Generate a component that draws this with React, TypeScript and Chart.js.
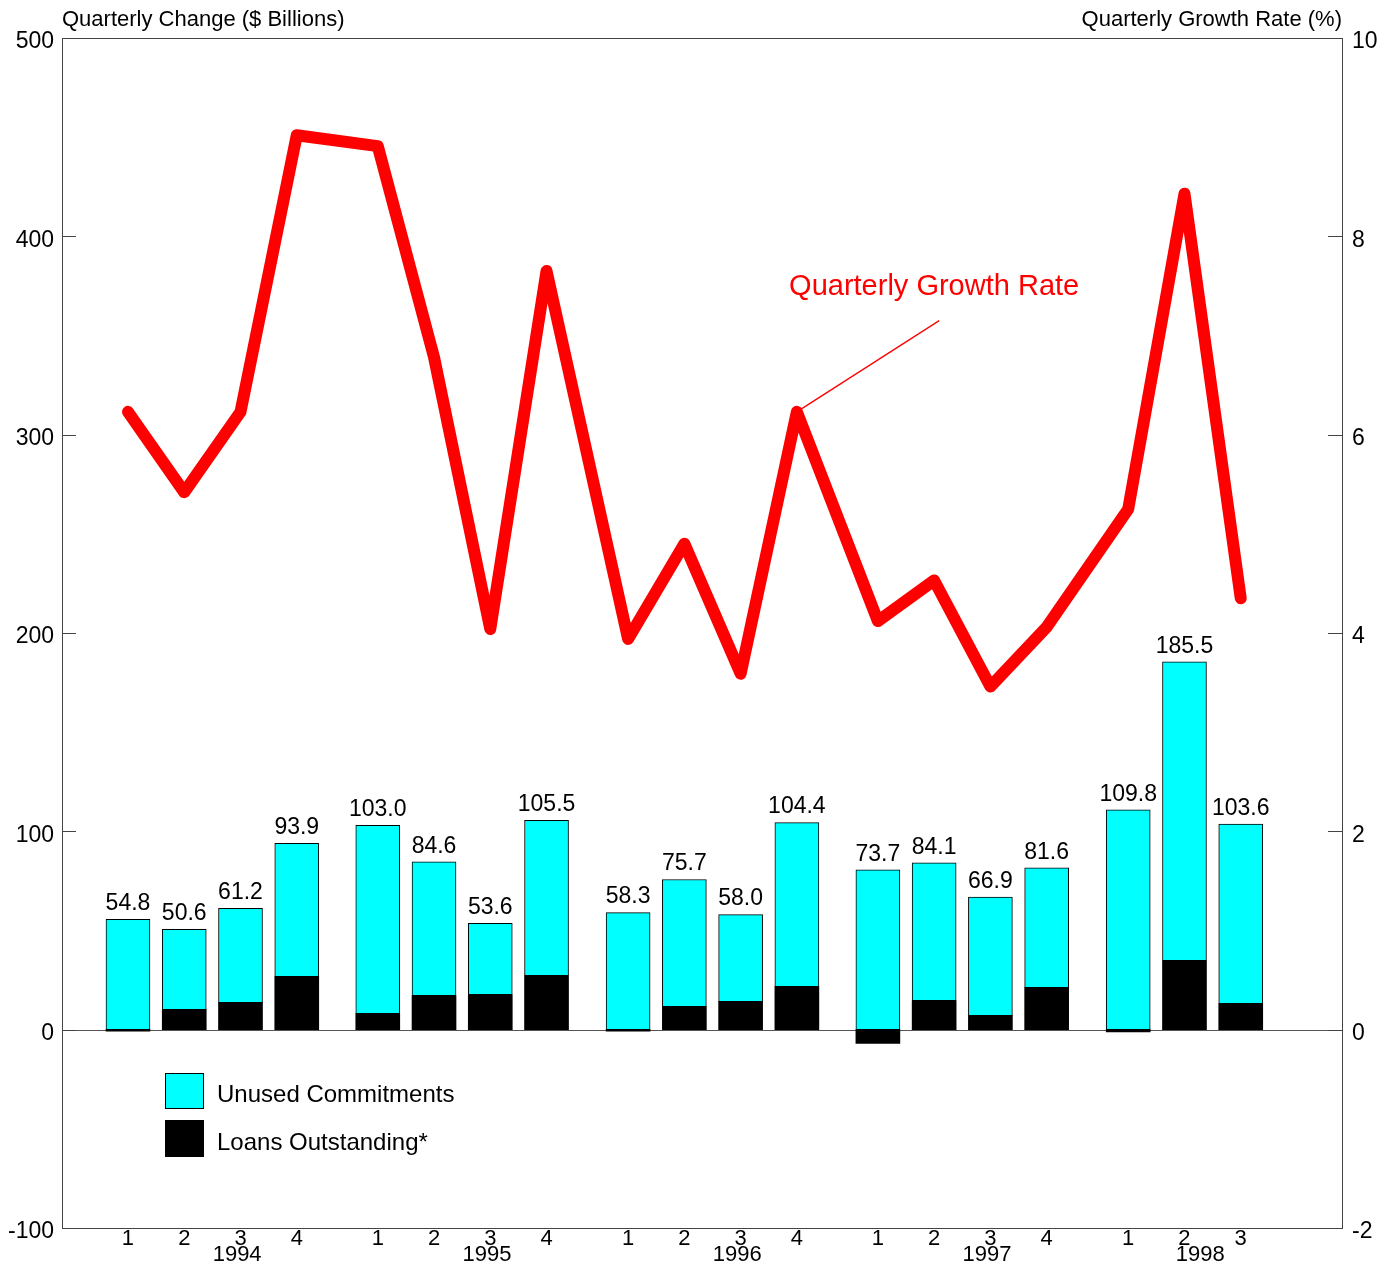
import React, { useEffect, useRef } from 'react';
import { Chart, registerables } from 'chart.js';

Chart.register(...registerables);

const FONT = '"Liberation Sans", Arial, Helvetica, sans-serif';

// Quarter tick labels and their positions on the (gapped) time axis
const quarterLabels = ['1', '2', '3', '4', '1', '2', '3', '4', '1', '2', '3', '4', '1', '2', '3', '4', '1', '2', '3'];
const quarterPos = [0, 1, 2, 3, 4.44, 5.44, 6.44, 7.44, 8.89, 9.89, 10.89, 11.89, 13.33, 14.33, 15.33, 16.33, 17.78, 18.78, 19.78];
const years = ['1994', '1995', '1996', '1997', '1998'];
const yearPos = [1.94, 6.38, 10.83, 15.27, 19.06];

// $ billions
const loansOutstanding = [-0.8, 10.1, 13.6, 26.7, 8.1, 17.1, 17.6, 27.2, -0.7, 11.6, 14.1, 21.7, -6.9, 14.6, 7.1, 21.2, -1.1, 34.8, 13.1];
const unusedCommitments = [55.6, 40.5, 47.6, 67.2, 94.9, 67.5, 36.0, 78.3, 59.0, 64.1, 43.9, 82.7, 80.6, 69.5, 59.8, 60.4, 110.9, 150.7, 90.5];
const totalChange = [54.8, 50.6, 61.2, 93.9, 103.0, 84.6, 53.6, 105.5, 58.3, 75.7, 58.0, 104.4, 73.7, 84.1, 66.9, 81.6, 109.8, 185.5, 103.6];
// %
const growthRate = [6.23, 5.42, 6.23, 9.02, 8.91, 6.78, 4.04, 7.65, 3.94, 4.90, 3.59, 6.23, 4.12, 4.53, 3.46, 4.06, 5.25, 8.43, 4.35];

const annotationIndex = 11;

export default function App() {
  const ref = useRef<HTMLCanvasElement>(null);

  useEffect(() => {
    const canvas = ref.current;
    if (!canvas) return;

    const custom = {
      id: 'custom',
      beforeDatasetsDraw(chart: any) {
        const { ctx, chartArea: a, scales } = chart;
        const y0 = scales.y.getPixelForValue(0);
        ctx.save();
        ctx.strokeStyle = '#555';
        ctx.lineWidth = 1;
        ctx.beginPath();
        ctx.moveTo(a.left, Math.round(y0) + 0.5);
        ctx.lineTo(a.right, Math.round(y0) + 0.5);
        ctx.stroke();
        ctx.restore();
      },
      afterDatasetsDraw(chart: any) {
        const { ctx, chartArea: a, scales } = chart;
        ctx.save();
        // frame
        ctx.strokeStyle = '#444';
        ctx.lineWidth = 1;
        ctx.strokeRect(Math.round(a.left) + 0.5, Math.round(a.top) + 0.5, Math.round(a.right - a.left), Math.round(a.bottom - a.top));
        // inward tick marks
        ctx.beginPath();
        scales.y.ticks.forEach((t: any) => {
          const py = Math.round(scales.y.getPixelForValue(t.value)) + 0.5;
          ctx.moveTo(a.left, py);
          ctx.lineTo(a.left + 14, py);
        });
        scales.y1.ticks.forEach((t: any) => {
          const py = Math.round(scales.y1.getPixelForValue(t.value)) + 0.5;
          ctx.moveTo(a.right - 14, py);
          ctx.lineTo(a.right, py);
        });
        ctx.stroke();

        // bar value labels
        const meta = chart.getDatasetMeta(1);
        ctx.fillStyle = '#000';
        ctx.font = `23px ${FONT}`;
        ctx.textAlign = 'center';
        ctx.textBaseline = 'bottom';
        meta.data.forEach((el: any, i: number) => {
          ctx.fillText(totalChange[i].toFixed(1), el.x, el.y - 4);
        });

        // year labels
        ctx.font = `22px ${FONT}`;
        ctx.textBaseline = 'middle';
        years.forEach((yr, i) => {
          ctx.fillText(yr, scales.x.getPixelForValue(yearPos[i]), a.bottom + 27);
        });

        // axis titles
        ctx.font = `22px ${FONT}`;
        ctx.textAlign = 'left';
        ctx.fillText('Quarterly Change ($ Billions)', a.left, 20);
        ctx.textAlign = 'right';
        ctx.fillText('Quarterly Growth Rate (%)', a.right, 20);

        // annotation
        const px = scales.x.getPixelForValue(quarterPos[annotationIndex]);
        const py = scales.y1.getPixelForValue(growthRate[annotationIndex]);
        const tx = scales.x.getPixelForValue(14.33);
        const ty = scales.y1.getPixelForValue(7.49);
        const lx = scales.x.getPixelForValue(14.42);
        const ly = scales.y1.getPixelForValue(7.15);
        ctx.strokeStyle = '#ff0000';
        ctx.lineWidth = 1.3;
        ctx.beginPath();
        ctx.moveTo(lx, ly);
        ctx.lineTo(px + 3, py - 2);
        ctx.stroke();
        ctx.fillStyle = '#ff0000';
        ctx.font = `29px ${FONT}`;
        ctx.textAlign = 'center';
        ctx.textBaseline = 'middle';
        ctx.fillText('Quarterly Growth Rate', tx, ty);

        // legend
        const lxb = a.left + 103;
        const ly1 = a.top + 1035;
        ctx.fillStyle = '#00ffff';
        ctx.fillRect(lxb, ly1, 38, 35);
        ctx.strokeStyle = '#000';
        ctx.lineWidth = 1;
        ctx.strokeRect(lxb + 0.5, ly1 + 0.5, 38, 35);
        ctx.fillStyle = '#000';
        ctx.fillRect(lxb, ly1 + 47, 39, 37);
        ctx.font = `24px ${FONT}`;
        ctx.textAlign = 'left';
        ctx.textBaseline = 'middle';
        ctx.fillText('Unused Commitments', lxb + 52, ly1 + 22);
        ctx.fillText('Loans Outstanding*', lxb + 52, ly1 + 70);
        ctx.restore();
      },
    };

    const chart = new Chart(canvas, {
      type: 'bar',
      data: {
        datasets: [
          {
            type: 'line',
            label: 'Quarterly Growth Rate',
            data: quarterPos.map((x, i) => ({ x, y: growthRate[i] })),
            yAxisID: 'y1',
            borderColor: '#ff0000',
            backgroundColor: '#ff0000',
            borderWidth: 12,
            pointRadius: 0,
            tension: 0,
            borderJoinStyle: 'round',
            borderCapStyle: 'round',
            order: 0,
          } as any,
          {
            type: 'bar',
            label: 'Unused Commitments',
            data: quarterPos.map((x, i) => ({ x, y: unusedCommitments[i] })),
            yAxisID: 'y',
            stack: 'a',
            backgroundColor: '#00ffff',
            borderColor: '#000',
            borderWidth: 1,
            borderSkipped: false,
            barThickness: 44,
            order: 2,
          } as any,
          {
            type: 'bar',
            label: 'Loans Outstanding*',
            data: quarterPos.map((x, i) => ({ x, y: loansOutstanding[i] })),
            yAxisID: 'y',
            stack: 'a',
            backgroundColor: '#000',
            borderColor: '#000',
            borderWidth: 0,
            barThickness: 44,
            order: 1,
          } as any,
        ],
      },
      options: {
        responsive: false,
        animation: false,
        layout: { padding: { top: 38, left: 0, right: 0, bottom: 0 } },
        plugins: { legend: { display: false }, tooltip: { enabled: false } },
        scales: {
          x: {
            type: 'linear',
            offset: false,
            min: -1.173,
            max: 21.58,
            grid: { display: false, drawTicks: false, offset: false },
            border: { display: false },
            afterBuildTicks: (scale: any) => {
              scale.ticks = quarterPos.map((v) => ({ value: v }));
            },
            afterFit: (scale: any) => {
              scale.height = 40;
            },
            ticks: {
              autoSkip: false,
              maxRotation: 0,
              padding: -2,
              color: '#000',
              font: { family: FONT, size: 22 },
              callback: (_v: any, i: number) => quarterLabels[i],
            },
          },
          y: {
            position: 'left',
            stacked: true,
            min: -100,
            max: 500,
            grid: { display: false, drawTicks: false },
            border: { display: false },
            afterFit: (scale: any) => {
              scale.width = 62;
            },
            ticks: {
              stepSize: 100,
              padding: 8,
              labelOffset: 4,
              color: '#000',
              font: { family: FONT, size: 23 },
            },
          },
          y1: {
            position: 'right',
            min: -2,
            max: 10,
            grid: { display: false, drawTicks: false },
            border: { display: false },
            afterFit: (scale: any) => {
              scale.width = 53;
            },
            ticks: {
              stepSize: 2,
              padding: 10,
              labelOffset: 4,
              color: '#000',
              font: { family: FONT, size: 23 },
            },
          },
        },
      } as any,
      plugins: [custom],
    });

    return () => chart.destroy();
  }, []);

  return (
    <div style={{ position: 'absolute', left: 0, top: 0, width: 1395, height: 1268, background: '#fff' }}>
      <canvas ref={ref} width={1395} height={1268} style={{ width: 1395, height: 1268, display: 'block' }} />
    </div>
  );
}
